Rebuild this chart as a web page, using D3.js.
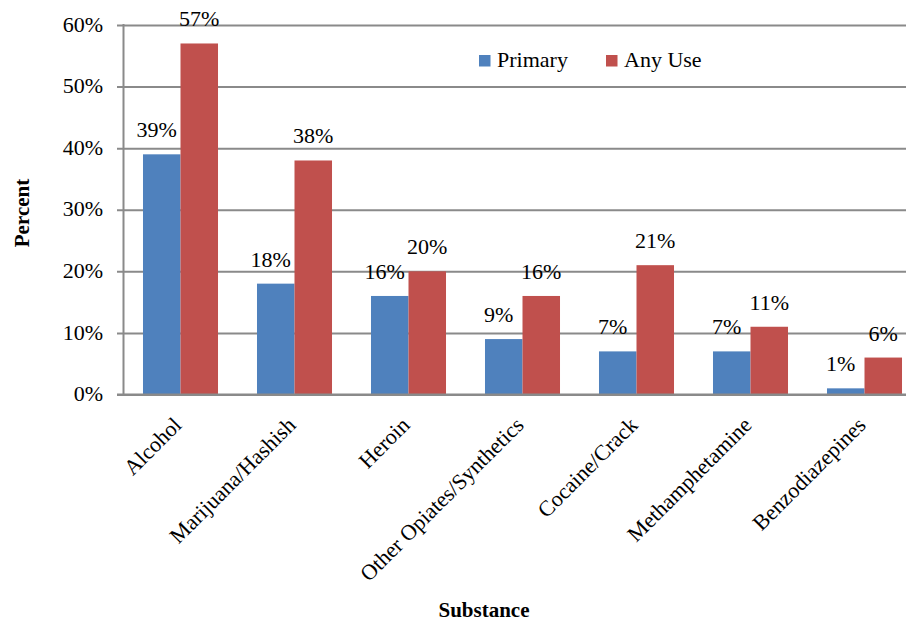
<!DOCTYPE html>
<html>
<head>
<meta charset="utf-8">
<script src="https://cdn.jsdelivr.net/npm/d3@7"></script>
<style>
  body { margin: 0; background: #fff; }
  svg { display: block; font-family: "Liberation Serif", "Times New Roman", serif; }
</style>
</head>
<body>
<svg id="chart" width="906" height="622"></svg>
<script>
const substances = ["Alcohol", "Marijuana/Hashish", "Heroin", "Other Opiates/Synthetics", "Cocaine/Crack", "Methamphetamine", "Benzodiazepines"];
const seriesNames = ["Primary", "Any Use"];
const primary = [39, 18, 16, 9, 7, 7, 1];
const anyUse = [57, 38, 20, 16, 21, 11, 6];
const yTicks = [0, 10, 20, 30, 40, 50, 60];

const colors = ["#4f81bd", "#c0504d"];
const gridColor = "#8a8a8a";

const svg = d3.select("#chart");

// plot area runs past the right edge of the picture (cropped like the original)
const plotLeft = 123.5, plotRight = 921.5, plotTop = 25, plotBottom = 394.5;

const x = d3.scaleBand()
  .domain(substances)
  .range([plotLeft, plotRight])
  .paddingInner(0.342)
  .paddingOuter(0.171);

const xSeries = d3.scaleBand()
  .domain(seriesNames)
  .range([0, x.bandwidth()]);

const y = d3.scaleLinear().domain([0, 60]).range([plotBottom, plotTop]);

// gridlines + y tick labels
const yAxis = svg.append("g")
  .attr("transform", `translate(${plotLeft},0)`)
  .call(d3.axisLeft(y).tickValues(yTicks).tickSize(-(plotRight - plotLeft)).tickSizeOuter(0).tickPadding(0).tickFormat(d => d + "%"));
yAxis.select(".domain").remove();
yAxis.selectAll(".tick line")
  .attr("x1", -6.5)
  .attr("stroke", gridColor)
  .attr("stroke-width", 2);
yAxis.selectAll(".tick text")
  .attr("x", -20.5)
  .attr("dy", "0.28em")
  .attr("fill", "#000")
  .style("font-size", "22px")
  .style("font-family", "Liberation Serif, serif");

const rows = substances.map((s, i) => ({ name: s, values: [primary[i], anyUse[i]] }));

const groups = svg.append("g")
  .selectAll("g")
  .data(rows)
  .join("g")
  .attr("transform", d => `translate(${x(d.name)},0)`);

groups.selectAll("rect")
  .data(d => d.values.map((v, j) => ({ series: seriesNames[j], value: v, j })))
  .join("rect")
  .attr("x", d => xSeries(d.series))
  .attr("y", d => y(d.value))
  .attr("width", xSeries.bandwidth())
  .attr("height", d => plotBottom - y(d.value))
  .attr("fill", d => colors[d.j]);

groups.selectAll("text")
  .data(d => d.values.map((v, j) => ({ series: seriesNames[j], value: v, j })))
  .join("text")
  .attr("x", d => xSeries(d.series) + xSeries.bandwidth() / 2 + (d.j === 0 ? -5 : 0))
  .attr("y", d => y(d.value) - 17)
  .attr("text-anchor", "middle")
  .style("font-size", "22px")
  .text(d => d.value + "%");

// axis lines
svg.append("line")
  .attr("x1", plotLeft).attr("x2", plotLeft)
  .attr("y1", plotTop - 1).attr("y2", plotBottom)
  .attr("stroke", gridColor).attr("stroke-width", 2);
svg.append("line")
  .attr("x1", plotLeft - 6.5).attr("x2", plotRight)
  .attr("y1", plotBottom).attr("y2", plotBottom)
  .attr("stroke", gridColor).attr("stroke-width", 2);

// rotated category labels
svg.append("g")
  .selectAll("text")
  .data(substances)
  .join("text")
  .attr("transform", d => `translate(${x(d) + x.bandwidth() / 2 - 3},421) rotate(-45)`)
  .attr("text-anchor", "end")
  .attr("dy", "0.35em")
  .style("font-size", "22px")
  .text(d => d);

// axis titles
svg.append("text")
  .attr("x", 484)
  .attr("y", 617)
  .attr("text-anchor", "middle")
  .style("font-size", "21px")
  .style("font-weight", "bold")
  .text("Substance");

svg.append("text")
  .attr("transform", "translate(29,213) rotate(-90)")
  .attr("text-anchor", "middle")
  .style("font-size", "21px")
  .style("font-weight", "bold")
  .text("Percent");

// legend
const legendX = [479, 606];
const legend = svg.append("g")
  .selectAll("g")
  .data(seriesNames)
  .join("g")
  .attr("transform", (d, i) => `translate(${legendX[i]},55)`);
legend.append("rect")
  .attr("width", 11.5)
  .attr("height", 11.5)
  .attr("fill", (d, i) => colors[i]);
legend.append("text")
  .attr("x", 18)
  .attr("y", 12)
  .style("font-size", "22px")
  .text(d => d);
</script>
</body>
</html>
